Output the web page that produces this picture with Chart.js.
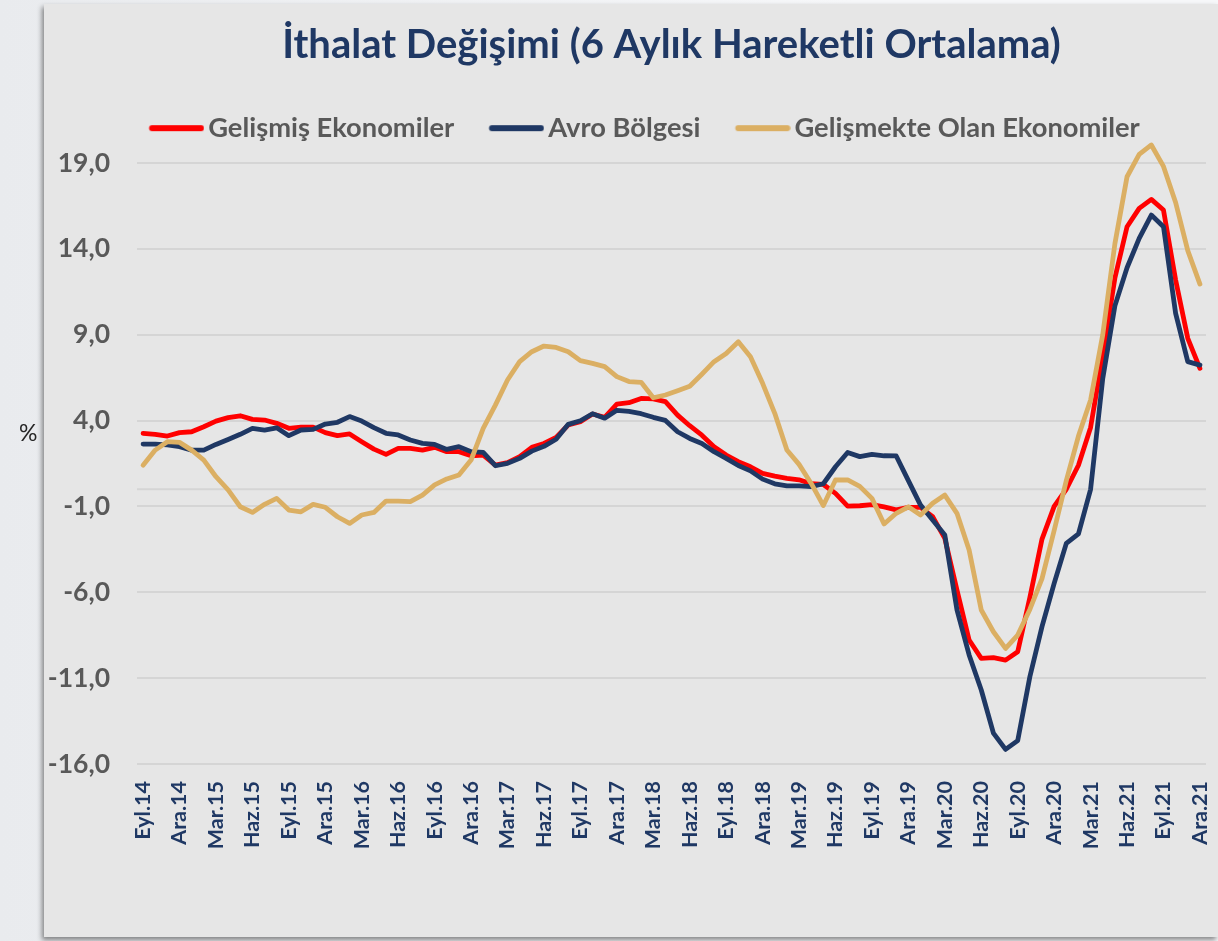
<!DOCTYPE html>
<html><head><meta charset="utf-8">
<script src="https://cdn.jsdelivr.net/npm/chart.js@4"></script>
<style>
html,body{margin:0;padding:0;}
body{width:1218px;height:941px;overflow:hidden;position:relative;background:linear-gradient(90deg,#e9ebee 0%,#f6f7f9 70%);font-family:Lato,sans-serif;}
#panel{position:absolute;left:44px;top:4px;width:1174px;height:933px;background:#e6e6e6;box-shadow:-2px 3px 5px rgba(0,0,0,0.45);}
#wrap{position:absolute;left:0;top:0;width:1218px;height:941px;}
#pct{position:absolute;left:19px;top:418px;font:23px Lato,sans-serif;color:#262626;}
</style></head>
<body>
<div id="panel"></div>
<div id="wrap"><canvas id="c" width="1218" height="941"></canvas></div>
<div id="pct">%</div>
<script>
// ---- data ----
const monthNames = ['Oca','Şub','Mar','Nis','May','Haz','Tem','Ağu','Eyl','Eki','Kas','Ara'];
const startMonthIndex = 8;   // Eylül
const startYear = 14;
const monthCount = 88;       // Eyl.14 .. Ara.21
const labelEvery = 3;
const categories = [];
for (let i = 0; i < monthCount; i++) {
  const m = (startMonthIndex + i) % 12;
  const y = startYear + Math.floor((startMonthIndex + i) / 12);
  categories.push(monthNames[m] + '.' + y);
}
const seriesNames = ['Gelişmiş Ekonomiler', 'Avro Bölgesi', 'Gelişmekte Olan Ekonomiler'];
const titleText = 'İthalat Değişimi (6 Aylık Hareketli Ortalama)';
const yTicks = [-16, -11, -6, -1, 4, 9, 14, 19];

const gelismis = [3.25,3.2,3.1,3.3,3.35,3.64,3.97,4.17,4.28,4.07,
  4.03,3.84,3.55,3.62,3.62,3.3,3.12,3.22,2.77,2.34,
  2.03,2.38,2.38,2.28,2.44,2.19,2.19,1.95,1.99,1.41,
  1.55,1.9,2.44,2.67,3.02,3.74,3.93,4.38,4.19,4.96,
  5.04,5.29,5.26,5.1,4.32,3.7,3.15,2.48,1.99,1.61,
  1.31,0.93,0.77,0.64,0.55,0.32,0.28,-0.24,-0.98,-0.96,
  -0.9,-1.03,-1.2,-1.05,-1.05,-1.6,-2.86,-5.87,-8.78,-9.85,
  -9.81,-9.95,-9.46,-6.3,-2.9,-1.0,0.0,1.4,3.6,7.8,
  12.3,15.29,16.36,16.88,16.26,12.19,8.79,7.04];
const avro = [2.63,2.63,2.58,2.48,2.28,2.28,2.61,2.9,3.2,3.55,
  3.45,3.58,3.12,3.45,3.49,3.8,3.9,4.23,3.97,3.59,
  3.26,3.16,2.87,2.67,2.61,2.32,2.48,2.19,2.15,1.37,
  1.51,1.8,2.22,2.5,2.91,3.78,3.99,4.4,4.14,4.6,
  4.53,4.4,4.19,4.01,3.35,2.96,2.67,2.19,1.8,1.38,
  1.07,0.59,0.32,0.2,0.2,0.15,0.32,1.31,2.14,1.9,
  2.03,1.95,1.94,0.5,-0.92,-1.79,-2.67,-7.03,-9.65,-11.69,
  -14.2,-15.15,-14.64,-10.92,-8.0,-5.48,-3.15,-2.6,0.0,6.45,
  10.68,12.9,14.61,15.97,15.29,10.24,7.43,7.23];
const gelismekte = [1.4,2.28,2.77,2.73,2.28,1.7,0.73,-0.04,-1.02,-1.35,
  -0.88,-0.53,-1.21,-1.31,-0.88,-1.05,-1.6,-1.99,-1.5,-1.35,
  -0.69,-0.69,-0.72,-0.34,0.25,0.6,0.83,1.7,3.55,4.9,
  6.36,7.43,8.01,8.34,8.26,8.01,7.49,7.33,7.14,6.56,
  6.27,6.23,5.33,5.49,5.74,6.0,6.7,7.43,7.91,8.59,
  7.72,6.17,4.42,2.29,1.45,0.34,-0.95,0.54,0.54,0.17,
  -0.53,-2.02,-1.4,-1.02,-1.5,-0.82,-0.34,-1.4,-3.54,-7.03,
  -8.3,-9.27,-8.49,-7.0,-5.2,-2.4,0.5,3.1,5.2,9.0,
  14.3,18.2,19.5,20.05,18.8,16.7,13.9,11.95];

// ---- style ----
const RED = '#ff0000', NAVY = '#1f3864', GOLD = '#dbaf63', GRID = '#d5d5d5', GREY = '#595959';
const FONT = 'Lato';
const FT = 40, FL = 27.3, LP = 35, TPT = 21, TPB = 10.5;
const MARK_LEN = 55, MARK_GAP = 4;
const BW = MARK_LEN + MARK_GAP - FL / 2;
const titleH = FT * 1.2 + TPT + TPB;
const areaTop = titleH + FL + LP + 10;
const pxPerUnit = (764 - 163) / 35;
const yMax = 19 + (163 - areaTop) / pxPerUnit;

function marker(color) {
  const w = 2 * MARK_LEN - BW;
  const c = document.createElement('canvas');
  c.width = Math.round(w); c.height = 10;
  const g = c.getContext('2d');
  g.strokeStyle = color; g.lineWidth = 6; g.lineCap = 'round';
  g.beginPath(); g.moveTo(MARK_LEN - BW + 3, 5); g.lineTo(w - 3, 5); g.stroke();
  return c;
}

const zeroLine = {
  id: 'zeroLine',
  afterLayout(chart) { chart.scales.y.left = 0; },
  beforeDatasetsDraw(chart) {
    const y = chart.scales.y.getPixelForValue(0);
    const {left, right} = chart.chartArea;
    const c = chart.ctx;
    c.save(); c.strokeStyle = GRID; c.lineWidth = 2;
    c.beginPath(); c.moveTo(left, y); c.lineTo(right, y); c.stroke(); c.restore();
  }
};

function ds(label, data, color, order) {
  return {label, data, borderColor: color, backgroundColor: color, order,
    pointStyle: marker(color), clip: false, borderWidth: 4.8, tension: 0,
    borderJoinStyle: 'round', borderCapStyle: 'round', pointRadius: 0, pointHoverRadius: 0, fill: false};
}

new Chart(document.getElementById('c'), {
  type: 'line',
  data: {
    labels: categories,
    datasets: [
      ds(seriesNames[0], gelismis, RED, 3),
      ds(seriesNames[1], avro, NAVY, 2),
      ds(seriesNames[2], gelismekte, GOLD, 1)
    ]
  },
  options: {
    responsive: false, animation: false, events: [],
    layout: {padding: {left: 83, right: 12, top: 0, bottom: 0}},
    plugins: {
      title: {display: true, text: titleText, fullSize: false, color: NAVY,
        font: {family: FONT, weight: 'bold', size: FT}, padding: {top: TPT, bottom: TPB}},
      legend: {display: true, position: 'top', align: 'center',
        labels: {usePointStyle: true, pointStyleWidth: BW, color: GREY,
          font: {family: FONT, weight: 'bold', size: FL}, padding: LP,
          sort: (a, b) => a.datasetIndex - b.datasetIndex}},
      tooltip: {enabled: false}
    },
    scales: {
      x: {type: 'category', offset: true,
        grid: {display: false, drawTicks: false}, border: {display: false},
        ticks: {autoSkip: false, minRotation: 90, maxRotation: 90, padding: 17, color: NAVY,
          font: {family: FONT, weight: 'bold', size: 21.5},
          callback: function (v, i) { return i % labelEvery === 0 ? this.getLabelForValue(v) : ''; }},
        afterFit: (s) => { s.height = 177; s.paddingLeft = 0; s.paddingRight = 0; }},
      y: {min: -16, max: yMax,
        grid: {color: GRID, lineWidth: 2, drawTicks: false}, border: {display: false},
        afterBuildTicks: (s) => { s.ticks = yTicks.map(v => ({value: v})); },
        ticks: {padding: 27, color: GREY, font: {family: FONT, weight: 'bold', size: 26.5},
          callback: (v) => Number(v).toFixed(1).replace('.', ',')},
        afterFit: (s) => { s.width = 54; }}
    }
  },
  plugins: [zeroLine]
});
</script>
</body></html>
